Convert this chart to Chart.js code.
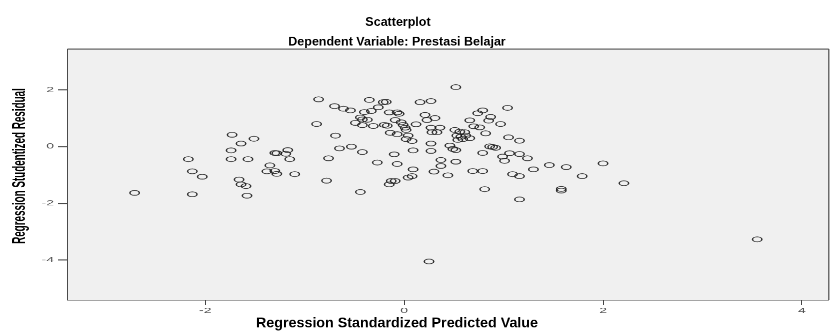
<!DOCTYPE html>
<html>
<head>
<meta charset="utf-8">
<script src="https://cdn.jsdelivr.net/npm/chart.js@4"></script>
<style>
  html, body { margin: 0; padding: 0; background: #fff; overflow: hidden; }
  /* the reference is a squashed SPSS export, so draw tall and squash it the same way */
  #wrap { width: 835px; height: 640px; transform: scaleY(0.5172); transform-origin: 0 0; }
</style>
</head>
<body>
<div id="wrap"><canvas id="scatter" width="835" height="640"></canvas></div>
<script>
// Scatterplot of regression residuals
const SQUASH = 0.5172;

const chartTitle = 'Scatterplot';
const chartSubtitle = 'Dependent Variable: Prestasi Belajar';
const xTitle = 'Regression Standardized Predicted Value';
const yTitle = 'Regression Studentized Residual';

const xTicks = [-2, 0, 2, 4];
const yTicks = [2, 0, -2, -4];

// Regression Standardized Predicted Value
const predicted = [
  -2.71, -2.17, -2.13, -2.03, -2.13, -1.73, -1.51, -1.64, -1.74, -1.74,
  -1.57, -1.30, -1.28, -1.19, -1.17, -1.15, -1.35, -1.38, -1.30, -1.28,
  -1.10, -1.66, -1.64, -1.59, -1.58,
  -0.86, -0.70, -0.61, -0.54, -0.35, -0.21, -0.18, -0.26, -0.40, -0.33,
  -0.44, -0.42, -0.37, -0.49, -0.42, -0.31, -0.15, -0.07, -0.05, 0.16,
  0.27, -0.20, -0.17, -0.09, -0.03, -0.01, 0.01, 0.02, 0.12, 0.21,
  0.23, 0.31, 0.27, -0.14, -0.07, 0.04, 0.08, 0.02, 0.28, 0.27,
  0.09, 0.27, -0.10, -0.88, -0.69, -0.65, -0.53, -0.42, -0.76, -0.27,
  -0.07, 0.09, 0.30, 0.37, -0.78, -0.15, -0.13, -0.09, 0.04, 0.08,
  -0.44, 0.25,
  0.52, 1.04, 0.79, 0.74, 0.66, 0.87, 0.85, 0.97, 0.70, 0.76,
  0.82, 1.05, 1.16, 0.36, 0.33, 0.51, 0.56, 0.61, 0.53, 0.57,
  0.62, 0.54, 0.59, 0.66, 0.46, 0.49, 0.52, 0.79, 0.86, 0.89,
  0.92, 0.99, 1.01, 1.06, 1.16, 1.24, 1.46, 1.30, 0.37, 0.52,
  0.44, 0.69, 0.79, 1.09, 1.16, 0.81, 1.16,
  1.63, 2.00, 1.79, 1.58, 1.58, 2.21, 3.55
];

// Regression Studentized Residual
const residual = [
  -1.63, -0.44, -0.87, -1.06, -1.68, 0.42, 0.28, 0.11, -0.13, -0.44,
  -0.44, -0.22, -0.23, -0.25, -0.12, -0.44, -0.66, -0.87, -0.86, -0.96,
  -0.97, -1.16, -1.33, -1.39, -1.73,
  1.67, 1.43, 1.34, 1.28, 1.65, 1.57, 1.58, 1.39, 1.22, 1.26,
  1.03, 0.96, 0.95, 0.84, 0.76, 0.73, 1.21, 1.21, 1.16, 1.57,
  1.61, 0.77, 0.74, 0.94, 0.86, 0.77, 0.67, 0.59, 0.79, 1.12,
  0.94, 1.01, 0.67, 0.49, 0.44, 0.39, 0.20, 0.27, 0.51, 0.11,
  -0.13, -0.15, -0.27, 0.80, 0.39, -0.06, 0.00, -0.19, -0.41, -0.56,
  -0.61, -0.80, -0.88, -0.47, -1.20, -1.33, -1.21, -1.21, -1.09, -1.04,
  -1.60, -4.05,
  2.10, 1.37, 1.28, 1.18, 0.93, 1.05, 0.92, 0.80, 0.72, 0.68,
  0.47, 0.33, 0.21, 0.67, 0.51, 0.59, 0.53, 0.51, 0.39, 0.35,
  0.39, 0.24, 0.27, 0.30, 0.04, -0.08, -0.12, -0.22, 0.01, -0.01,
  -0.04, -0.35, -0.50, -0.23, -0.26, -0.41, -0.65, -0.80, -0.68, -0.53,
  -1.01, -0.86, -0.86, -0.97, -1.04, -1.50, -1.86,
  -0.72, -0.59, -1.04, -1.49, -1.55, -1.29, -3.27
];

const points = predicted.map((x, i) => ({ x: x, y: residual[i] }));

// horizontal text is stretched back up so it looks unsquashed after the CSS transform
function flatText(ctx, text, x, y, size) {
  ctx.save();
  ctx.translate(x, y);
  ctx.scale(1, 1 / SQUASH);
  ctx.font = 'bold ' + size + 'px "Liberation Sans", Arial, sans-serif';
  ctx.fillText(text, 0, 0);
  ctx.restore();
}

const frame = {
  id: 'frame',
  beforeDatasetsDraw(chart) {
    const { ctx, chartArea: a } = chart;
    ctx.save();
    ctx.fillStyle = '#f0f0f0';
    ctx.fillRect(a.left, a.top, a.right - a.left, a.bottom - a.top);
    ctx.restore();
  },
  afterDraw(chart) {
    const { ctx, chartArea: a } = chart;
    ctx.save();
    ctx.strokeStyle = '#4a4a4a';
    ctx.lineWidth = 2;
    ctx.beginPath();
    ctx.moveTo(a.left, a.top);
    ctx.lineTo(a.right, a.top);
    ctx.stroke();
    ctx.lineWidth = 1.2;
    ctx.beginPath();
    ctx.moveTo(a.right, a.top);
    ctx.lineTo(a.right, a.bottom);
    ctx.stroke();

    ctx.fillStyle = '#000';
    ctx.textAlign = 'center';
    ctx.textBaseline = 'middle';
    flatText(ctx, chartTitle, 398, 43, 12.5);
    flatText(ctx, chartSubtitle, 397, 81, 12.5);
    flatText(ctx, xTitle, 397, 625, 14.3);

    ctx.translate(20, 321);
    ctx.rotate(-Math.PI / 2);
    ctx.font = 'bold 19px "Liberation Sans", Arial, sans-serif';
    ctx.fillText(yTitle, 0, 0);
    ctx.restore();
  }
};

new Chart(document.getElementById('scatter'), {
  type: 'scatter',
  data: {
    datasets: [{
      data: points,
      pointStyle: 'circle',
      pointRadius: 4.7,
      pointHoverRadius: 4.7,
      borderWidth: 1.5,
      borderColor: 'rgba(30,30,30,0.9)',
      backgroundColor: 'rgba(0,0,0,0)'
    }]
  },
  options: {
    responsive: false,
    animation: false,
    devicePixelRatio: 1,
    layout: { padding: { top: 94.7, right: 2, left: 0, bottom: 0 } },
    plugins: { legend: { display: false }, tooltip: { enabled: false } },
    scales: {
      x: {
        type: 'linear',
        min: -3.38,
        max: 4.27,
        afterBuildTicks: s => { s.ticks = xTicks.map(v => ({ value: v })); },
        afterFit: s => { s.height = 60; },
        grid: { drawOnChartArea: false, tickLength: 10, tickWidth: 1, color: '#444' },
        border: { color: '#4a4a4a', width: 2 },
        ticks: { color: '#555', padding: 3, font: { family: '"Liberation Sans", Arial, sans-serif', size: 14 } }
      },
      y: {
        type: 'linear',
        min: -5.41,
        max: 3.447,
        afterBuildTicks: s => { s.ticks = yTicks.map(v => ({ value: v })); },
        afterFit: s => { s.width = 68; },
        grid: { drawOnChartArea: false, tickLength: 10, tickWidth: 2, color: '#444' },
        border: { color: '#4a4a4a', width: 1.2 },
        ticks: { color: '#555', padding: 4, font: { family: '"Liberation Sans", Arial, sans-serif', size: 14 } }
      }
    }
  },
  plugins: [frame]
});
</script>
</body>
</html>
